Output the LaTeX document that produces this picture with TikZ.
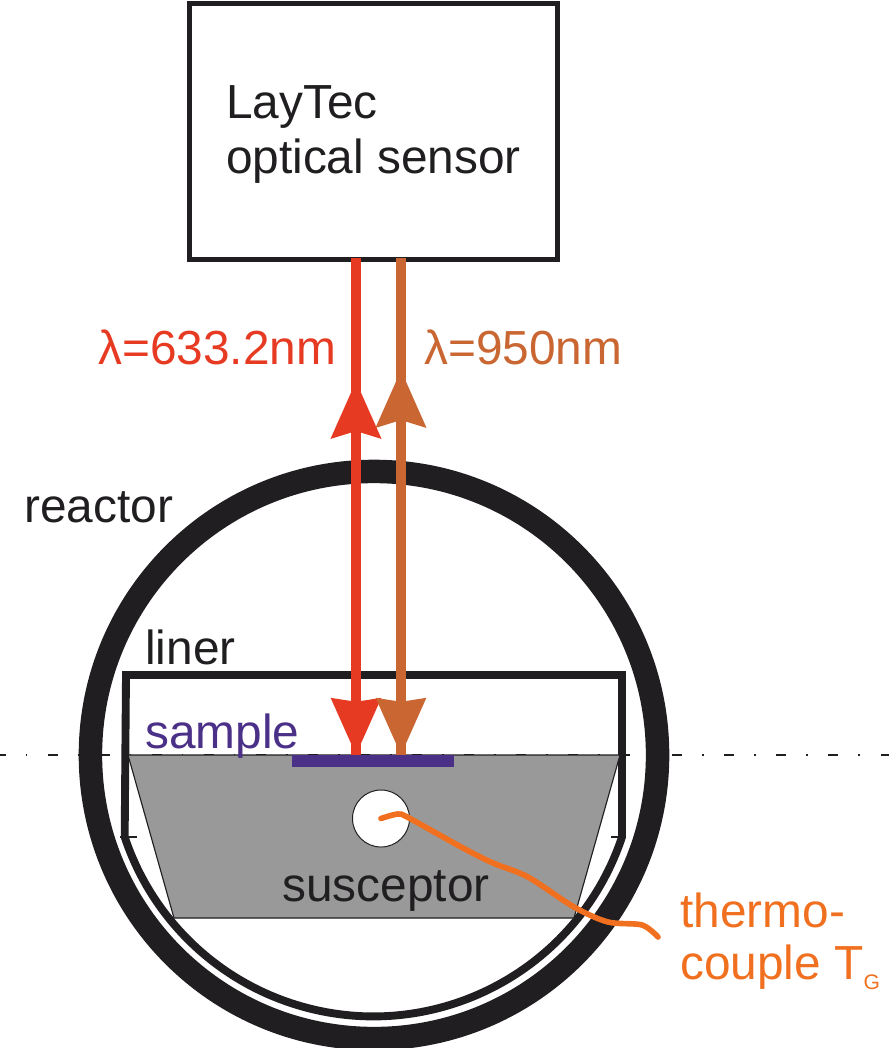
\documentclass[tikz,border=0pt]{standalone}
\usepackage{fontspec}
\setmainfont{Liberation Sans}
\usepackage{xcolor}
\usetikzlibrary{arrows.meta, positioning}
\definecolor{beamred}{RGB}{230, 58, 34}
\definecolor{beambrown}{RGB}{201, 102, 50}
\definecolor{samplepurple}{RGB}{75, 48, 136}
\definecolor{wireorange}{RGB}{240, 112, 32}
\definecolor{wallblack}{RGB}{32, 30, 32}
\definecolor{susceptorgray}{RGB}{153, 153, 153}

\begin{document}
\begin{tikzpicture}[
        x=0.025cm, y=-0.025cm,
        labeltext/.style={font=\fontsize{34}{39}\selectfont, inner sep=0pt, anchor=base west},
        sensor/.style={rectangle, draw=wallblack, line width=3.5pt, minimum width=9.2cm, minimum height=6.39cm},
        sensortext/.style={align=left, inner sep=0pt, font=\fontsize{34}{39}\selectfont, text=wallblack},
        wall/.style={draw=wallblack, line width=16.7pt},
        linerwall/.style={draw=wallblack, line width=5.6pt},
        beam/.style={line width=7pt},
        downhead/.style={-{Stealth[length=1.4cm, width=1.2cm, inset=0.07cm]}},
        uphead/.style={-{Stealth[length=1.42cm, width=1.22cm, inset=0.17cm]}},
    ]
        \useasboundingbox (0,0) rectangle (889,1048);

        \coordinate (C) at (374,755);
        \draw[wall] (C) circle [radius=7.0875cm];

        % liner, flat lid and rounded floor
        \draw[linerwall] (126,675) -- (622,675) -- (622,837)
            arc[start angle=18.4, end angle=161.6, x radius=6.55cm, y radius=-6.55cm] -- cycle;
        \draw[wallblack, line width=1pt] (120,837) -- (137,837);
        \draw[wallblack, line width=1pt] (611,837) -- (626,837);

        \draw[wallblack, line width=1.2pt, dash pattern=on 7.1pt off 14pt on 1.2pt off 14.7pt] (-4,755) -- (889,755);

        \path[fill=susceptorgray, draw=wallblack, line width=0.8pt] (128,755) -- (620,755) -- (574,918) -- (174,918) -- cycle;
        \fill[samplepurple] (292,755) rectangle (454,767);

        \node[circle, draw=wallblack, fill=white, line width=0.7pt, minimum size=1.425cm, inner sep=0pt] (hole) at (381,818.5) {};

        \node[sensor] (S) at (373.5,131.75) {};
        \node[sensortext] (Stext) at ([yshift=-0.075cm]S.center) {LayTec\\optical sensor};

        \coordinate (Rtop) at (356,258);
        \coordinate (Rend) at (356,755);
        \coordinate (Rup) at (356,381);
        \coordinate (Btop) at (401,258);
        \coordinate (Bend) at (401,755);
        \coordinate (Bup) at (401,370);

        \draw[beam, downhead, draw=beamred] (Rtop) -- (Rend);
        \draw[beam, uphead, draw=beamred] (Rend) -- (Rup);
        \draw[beam, downhead, draw=beambrown] (Btop) -- (Bend);
        \draw[beam, uphead, draw=beambrown] (Bend) -- (Bup);

        \coordinate (wireend) at (658,937);
        \draw[wireorange, line width=4pt, line cap=round] plot[smooth] coordinates {(hole.center) (398,814) (409,818) (463,848) (493,863) (528,877) (574,907) (608,922) (642,925) (wireend)};

        \node[labeltext, text=beamred] (redtext) at (98,364) {λ=633.2nm};
        \node[labeltext, text=beambrown] (browntext) at (424,364) {λ=950nm};
        \node[labeltext, text=wallblack] (reactor) at (24,522) {reactor};
        \node[labeltext, text=wallblack] (liner) at (145,664) {liner};
        \node[labeltext, text=samplepurple] (sample) at (145,748) {sample};
        \node[labeltext, text=wallblack] (susceptor) at (282,901) {susceptor};
        \node[labeltext, text=wireorange] (thermo) at (680,927) {thermo-};
        \node[labeltext, text=wireorange] (couple) at (680,979) {couple T\raisebox{-7.8pt}{\fontsize{15}{15}\selectfont G}};
    \end{tikzpicture}
\end{document}
